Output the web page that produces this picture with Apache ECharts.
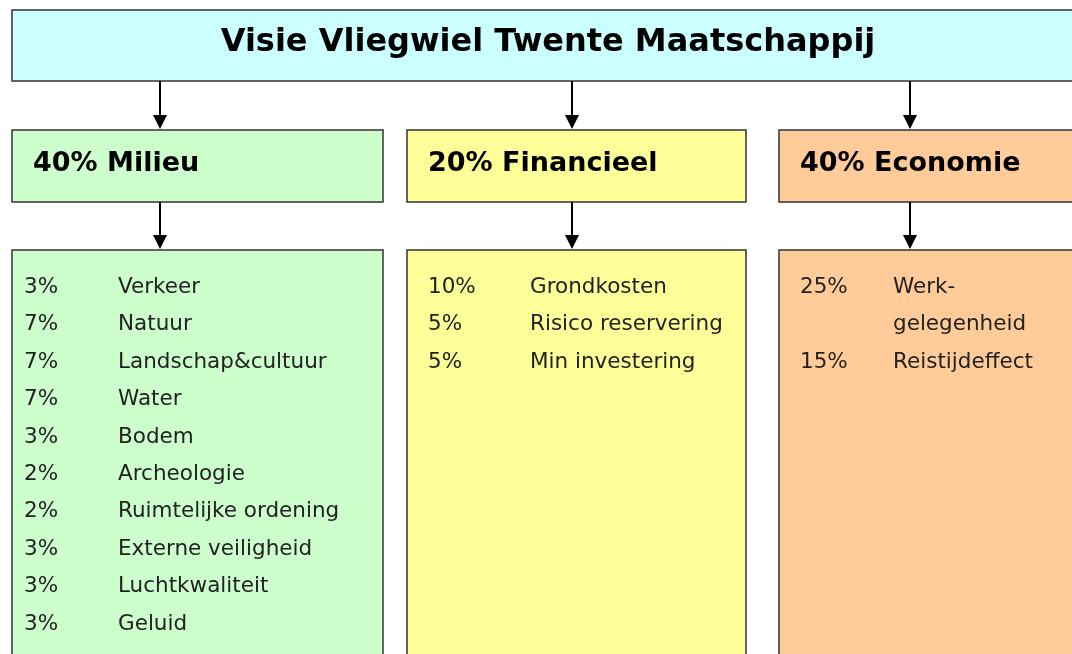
<!DOCTYPE html>
<html>
<head>
<meta charset="utf-8">
<script src="https://cdn.jsdelivr.net/npm/echarts@6/dist/echarts.min.js"></script>
<style>
  html, body { margin: 0; padding: 0; background: #fff; }
  #main { width: 1072px; height: 654px; }
</style>
</head>
<body>
<div id="main"></div>
<script>
  // data
  var titleText = 'Visie Vliegwiel Twente Maatschappij';
  var pillarNames = ['Milieu', 'Financieel', 'Economie'];
  var pillarWeights = [40, 20, 40];
  var milieuItems = ['Verkeer', 'Natuur', 'Landschap&cultuur', 'Water', 'Bodem', 'Archeologie',
                     'Ruimtelijke ordening', 'Externe veiligheid', 'Luchtkwaliteit', 'Geluid'];
  var milieuWeights = [3, 7, 7, 7, 3, 2, 2, 3, 3, 3];
  var financieelItems = ['Grondkosten', 'Risico reservering', 'Min investering'];
  var financieelWeights = [10, 5, 5];
  var economieItems = ['Werk-\ngelegenheid', 'Reistijdeffect'];
  var economieWeights = [25, 15];

  var subItems = [milieuItems, financieelItems, economieItems];
  var subWeights = [milieuWeights, financieelWeights, economieWeights];

  // layout
  var colors = ['#ccffcc', '#ffff99', '#ffcc99'];
  var boxLeft = [12, 407, 779];
  var boxWidth = [371, 339, 320];
  var arrowX = [160, 572, 910];
  var pctOffset = [12, 21, 21];
  var labelOffset = [106, 123, 114];
  var rowTop = 287.5, rowStep = 37.4;
  var border = '#333';
  var font = '"DejaVu Sans", Verdana, sans-serif';

  var chart = echarts.init(document.getElementById('main'));
  var els = [];

  function arrow(x, y1, y2) {
    els.push({ type: 'line', shape: { x1: x, y1: y1, x2: x, y2: y2 - 12 },
      style: { stroke: '#000', lineWidth: 2 } });
    els.push({ type: 'polygon', shape: { points: [[x - 7, y2 - 14], [x + 7, y2 - 14], [x, y2]] },
      style: { fill: '#000' } });
  }

  // title box
  els.push({ type: 'rect', shape: { x: 12, y: 10, width: 1073, height: 71 },
    style: { fill: '#ccffff', stroke: border, lineWidth: 1.5 } });
  els.push({ type: 'text', x: 548, y: 43, style: { text: titleText, fill: '#000',
    font: 'bold 32px ' + font, align: 'center', verticalAlign: 'middle' } });

  pillarNames.forEach(function (name, i) {
    var x0 = boxLeft[i];
    arrow(arrowX[i], 81, 129);
    els.push({ type: 'rect', shape: { x: x0, y: 130, width: boxWidth[i], height: 72 },
      style: { fill: colors[i], stroke: border, lineWidth: 1.5 } });
    els.push({ type: 'text', x: x0 + 21, y: 164, style: { text: pillarWeights[i] + '% ' + name,
      fill: '#000', font: 'bold 27px ' + font, verticalAlign: 'middle' } });
    arrow(arrowX[i], 202, 249);
    els.push({ type: 'rect', shape: { x: x0, y: 250, width: boxWidth[i], height: 420 },
      style: { fill: colors[i], stroke: border, lineWidth: 1.5 } });

    var row = 0;
    subItems[i].forEach(function (item, j) {
      els.push({ type: 'text', x: x0 + pctOffset[i], y: rowTop + row * rowStep,
        style: { text: subWeights[i][j] + '%', fill: '#222', font: '21.5px ' + font, verticalAlign: 'middle' } });
      item.split('\n').forEach(function (line) {
        els.push({ type: 'text', x: x0 + labelOffset[i], y: rowTop + row * rowStep,
          style: { text: line, fill: '#222', font: '21.5px ' + font, verticalAlign: 'middle' } });
        row++;
      });
    });
  });

  chart.setOption({ animation: false, graphic: { elements: els } });
</script>
</body>
</html>
